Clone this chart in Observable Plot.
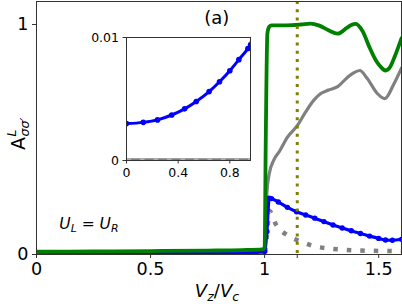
<!DOCTYPE html>
<html><head><meta charset="utf-8">
<script src="https://cdn.jsdelivr.net/npm/d3@7"></script>
<script src="https://cdn.jsdelivr.net/npm/@observablehq/plot@0.6"></script>
<style>
body{margin:0;background:white}
#wrap{position:relative;width:402px;height:304px;overflow:hidden;background:white}
#inset{position:absolute;left:86px;top:29px}
</style>
</head><body><div id="wrap"><div id="main"></div><div id="inset"></div></div>
<script>
// ---- data ----
const greenX = [0, 0.25, 0.5, 0.75, 0.9, 0.99, 1.0, 1.005, 1.012, 1.02, 1.03, 1.07, 1.12, 1.16, 1.2, 1.24, 1.28, 1.32, 1.36, 1.38, 1.4, 1.43, 1.46, 1.49, 1.51, 1.53, 1.55, 1.57, 1.6];
const greenY = [0.012, 0.013, 0.015, 0.017, 0.019, 0.022, 0.03, 0.5, 0.96, 0.99, 0.996, 0.996, 0.997, 1.0, 1.004, 0.995, 0.975, 0.96, 0.985, 0.998, 1.003, 0.97, 0.90, 0.84, 0.815, 0.80, 0.815, 0.86, 0.94];

const grayX = [0, 0.5, 0.99, 1.0, 1.005, 1.01, 1.02, 1.04, 1.066, 1.1, 1.143, 1.18, 1.215, 1.246, 1.28, 1.32, 1.363, 1.39, 1.417, 1.45, 1.494, 1.527, 1.566, 1.6];
const grayY = [0, 0, 0, 0.02, 0.16, 0.27, 0.35, 0.41, 0.45, 0.51, 0.56, 0.62, 0.67, 0.70, 0.715, 0.73, 0.77, 0.79, 0.80, 0.765, 0.70, 0.678, 0.74, 0.81];

const blueX = [0, 0.13, 0.24, 0.35, 0.45, 0.54, 0.64, 0.72, 0.80, 0.87, 0.94, 0.96, 1.0, 1.01, 1.02, 1.03, 1.06, 1.1, 1.14, 1.18, 1.22, 1.26, 1.3, 1.34, 1.38, 1.42, 1.46, 1.5, 1.53, 1.56, 1.6];
const blueY = [0.0030, 0.0031, 0.0033, 0.0037, 0.0042, 0.0048, 0.0056, 0.0064, 0.0073, 0.0082, 0.0091, 0.0094, 0.013, 0.1, 0.245, 0.243, 0.228, 0.205, 0.186, 0.172, 0.158, 0.143, 0.128, 0.115, 0.103, 0.091, 0.08, 0.07, 0.063, 0.062, 0.066];

const dotX = [0, 0.5, 0.99, 1.0, 1.01, 1.02, 1.05, 1.1, 1.155, 1.216, 1.275, 1.34, 1.4, 1.47, 1.54, 1.6];
const dotY = [0.0001, 0.0001, 0.0001, 0.005, 0.08, 0.19, 0.13, 0.083, 0.058, 0.036, 0.027, 0.021, 0.018, 0.016, 0.015, 0.014];

const markerX = [1.143];               // dotted vertical line
const xTicks = [0, 0.5, 1, 1.143, 1.5];
const xTickLabels = ["0", "0.5", "1", "", "1.5"];
const yTicks = [0, 1];
const yTickLabels = ["0", "1"];
const insetXTicks = [0, 0.4, 0.8];
const insetXTickLabels = ["0", "0.4", "0.8"];
const insetYTicks = [0, 0.01];
const insetYTickLabels = ["0", "0.01"];
const panelLabel = "(a)";

const toRows = (xs, ys) => xs.map((x, i) => ({x, y: ys[i]}));
const green = toRows(greenX, greenY);
const gray = toRows(grayX, grayY);
const blue = toRows(blueX, blueY);
const dotted = toRows(dotX, dotY);

const FONT = "DejaVu Sans";
const AX = "#333";

const main = Plot.plot({
  width: 402, height: 304,
  marginLeft: 36, marginRight: 1, marginTop: 1, marginBottom: 50,
  x: {domain: [0, 1.6]},
  y: {domain: [0, 1.1]},
  style: {fontFamily: FONT, fontSize: "17.6px", background: "white", color: "black", overflow: "visible"},
  marks: [
    Plot.line(gray, {x: "x", y: "y", stroke: "gray", strokeWidth: 3.2, curve: "monotone-x", clip: true}),
    Plot.line(dotted, {x: "x", y: "y", stroke: "gray", strokeWidth: 4.5, strokeDasharray: "4.5,9", strokeLinecap: "butt", strokeLinejoin: "miter", curve: "monotone-x", clip: true}),
    Plot.line(blue, {x: "x", y: "y", stroke: "blue", strokeWidth: 3.2, curve: "monotone-x", clip: true}),
    Plot.dot(blue, {x: "x", y: "y", fill: "blue", r: 2.7, clip: true}),
    Plot.line(green, {x: "x", y: "y", stroke: "green", strokeWidth: 3.8, curve: "monotone-x", clip: true}),
    Plot.ruleX(markerX, {stroke: "olive", strokeWidth: 3, strokeDasharray: "3,5.3", strokeLinecap: "butt"}),
    Plot.frame({stroke: AX, strokeWidth: 1}),
    Plot.axisX(xTicks, {tickFormat: (d) => xTickLabels[xTicks.indexOf(d)], tickSize: 4, tickPadding: 4, stroke: AX, label: null}),
    Plot.axisY(yTicks, {tickFormat: (d) => yTickLabels[yTicks.indexOf(d)], tickSize: 4, tickPadding: 4, stroke: AX, label: null})
  ]
});
document.getElementById("main").appendChild(main);

const insetData = (rows) => rows.filter(d => d.x <= 1.0);
const inset = Plot.plot({
  width: 168, height: 157,
  marginLeft: 40, marginRight: 4, marginTop: 8, marginBottom: 26,
  x: {domain: [0, 0.96]},
  y: {domain: [0, 0.01]},
  style: {fontFamily: FONT, fontSize: "12.5px", background: "transparent", color: "black", overflow: "visible"},
  marks: [
    Plot.frame({fill: "white", stroke: null}),
    Plot.line(insetData(gray), {x: "x", y: "y", stroke: "gray", strokeWidth: 4.5, clip: true}),
    Plot.line(insetData(dotted), {x: "x", y: "y", stroke: "#b0b0b0", strokeWidth: 2, strokeDasharray: "4.5,9", strokeLinecap: "butt", clip: true}),
    Plot.line(insetData(blue), {x: "x", y: "y", stroke: "blue", strokeWidth: 3, curve: "monotone-x", clip: true}),
    Plot.dot(insetData(blue), {x: "x", y: "y", fill: "blue", r: 2.8, clip: true}),
    Plot.frame({stroke: AX, strokeWidth: 1}),
    Plot.axisX(insetXTicks, {tickFormat: d => insetXTickLabels[insetXTicks.indexOf(d)], tickSize: 3.5, tickPadding: 4, stroke: AX, label: null}),
    Plot.axisY(insetYTicks, {tickFormat: d => insetYTickLabels[insetYTicks.indexOf(d)], tickSize: 3.5, tickPadding: 4, stroke: AX, label: null})
  ]
});
document.getElementById("inset").appendChild(inset);

// ---- rich text labels ----
const svg = d3.select(main);
const sx = main.scale("x"), sy = main.scale("y");

// panel label
svg.append("text").attr("x", sx.apply(0.792)).attr("y", sy.apply(1.001))
  .attr("text-anchor", "middle").attr("font-family", FONT).attr("font-size", 18).attr("fill", "black").text(panelLabel);

// U_L = U_R
const u = svg.append("text").attr("x", sx.apply(0.102)).attr("y", sy.apply(0.11))
  .attr("text-anchor", "start").attr("font-family", FONT).attr("font-size", 15.5).attr("fill", "black");
u.append("tspan").attr("font-style", "italic").text("U");
u.append("tspan").attr("font-style", "italic").attr("font-size", 10.9).attr("dy", 3.2).text("L");
u.append("tspan").attr("dy", -3.2).text(" = ");
u.append("tspan").attr("font-style", "italic").text("U");
u.append("tspan").attr("font-style", "italic").attr("font-size", 10.9).attr("dy", 3.2).text("R");

// x label
const xl = svg.append("text").attr("x", 217).attr("y", 297).attr("text-anchor", "middle")
  .attr("font-family", FONT).attr("font-size", 18).attr("fill", "black");
xl.append("tspan").attr("font-style", "italic").text("V");
xl.append("tspan").attr("font-style", "italic").attr("font-size", 12.6).attr("dy", 3.5).text("z");
xl.append("tspan").attr("dy", -3.5).text("/");
xl.append("tspan").attr("font-style", "italic").text("V");
xl.append("tspan").attr("font-style", "italic").attr("font-size", 12.6).attr("dy", 3.5).text("c");

// y label
const g = svg.append("g").attr("transform", "translate(25,134) rotate(-90)")
  .attr("font-family", FONT).attr("fill", "black").attr("text-anchor", "start");
g.append("text").attr("x", -16).attr("y", 0).attr("font-size", 19).text("A");
g.append("text").attr("x", -2.5).attr("y", -9).attr("font-size", 12.6).attr("font-style", "italic").text("L");
g.append("text").attr("x", -2.5).attr("y", 4).attr("font-size", 12.6).attr("font-style", "italic").text("σσ′");
</script>
</body></html>
